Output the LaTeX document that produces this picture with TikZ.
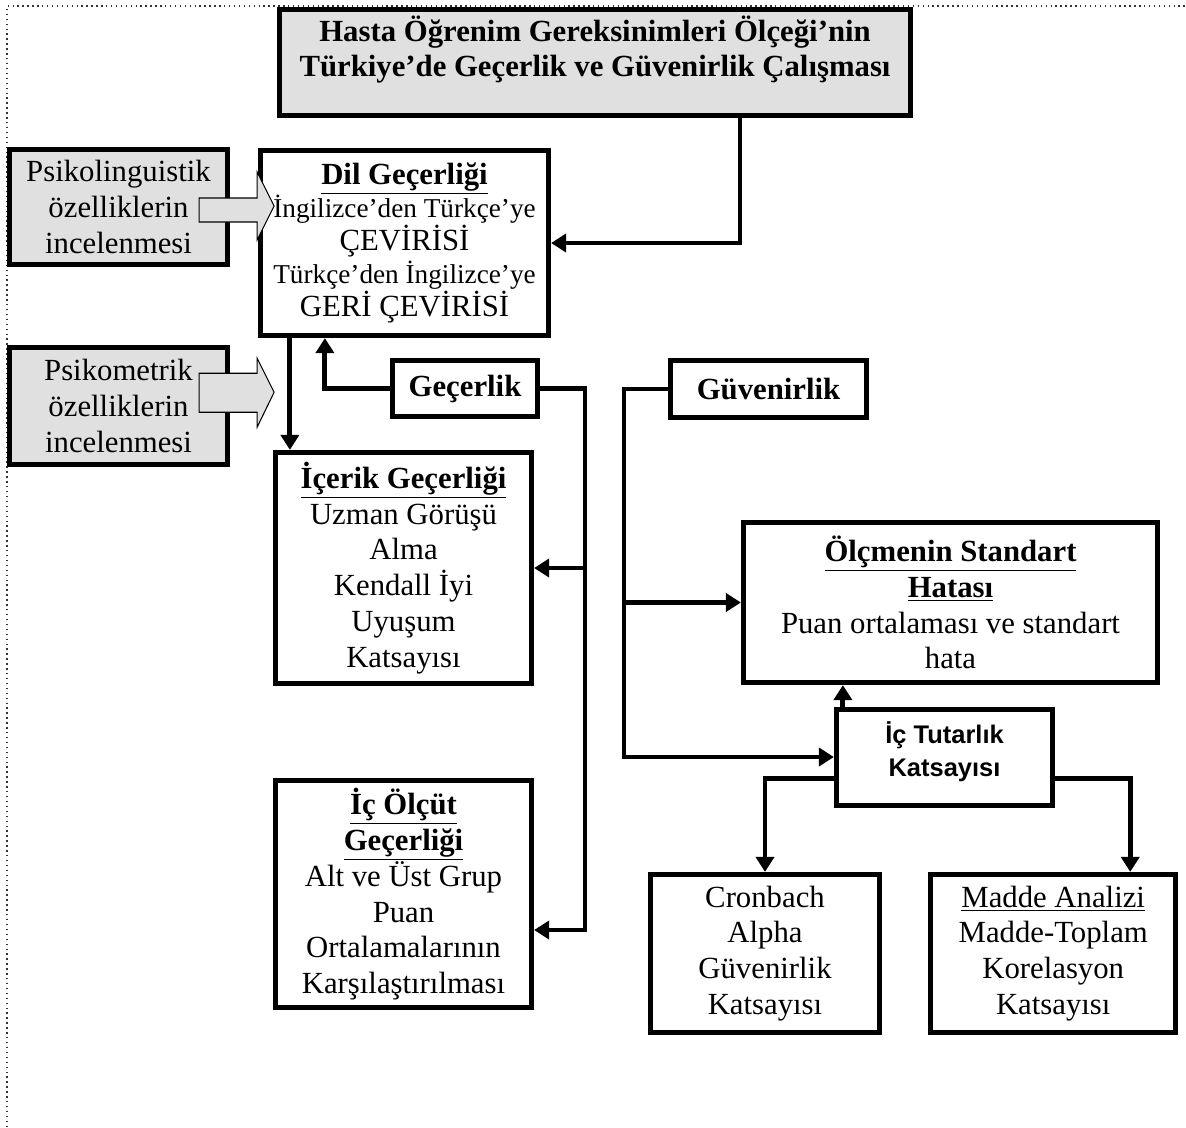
\documentclass[tikz,border=0pt]{standalone}
\usepackage{fontspec}
\setmainfont{Liberation Serif}
\newfontfamily\arialfont{Liberation Sans}
\usepackage{xcolor}
\usepackage{tikz}
\usetikzlibrary{arrows.meta,positioning,calc}
\definecolor{hgInk}{HTML}{000000}
\definecolor{hgGray}{HTML}{E0E0E0}
\newcommand{\bigtxt}{\fontsize{17.5}{20.4}\selectfont}
\newcommand{\smalltxt}{\fontsize{15.5}{18}\selectfont}
\tikzset{
  % Gray box (title, left side)
  gbox/.style={rectangle,draw=hgInk,line width=3pt,fill=hgGray,
    align=center,inner sep=2pt,font=\bigtxt},
  % White box
  wbox/.style={rectangle,draw=hgInk,line width=3pt,fill=white,
    align=center,inner sep=2pt,font=\bigtxt},
  % Block arrow
  barr/.style={draw=hgInk,line width=0.6pt,fill=hgGray,line join=miter},
  % Arrows
  arr/.style={-{Triangle[length=0.3cm,width=0.36cm]},line width=2.8pt,
    color=hgInk},
  frame/.style={dotted,line width=0.8pt,color=hgInk!80},
}
\begin{document}
\begin{tikzpicture}[x=0.02cm,y=-0.02cm]
  \useasboundingbox (0,0) rectangle (1186,1127);
  \draw[frame] (7,1127) -- (7,6) -- (1186,6);

  \node[gbox,minimum width=12.62cm,minimum height=2.12cm] (title) at (595,62.5) {};
  \node[font=\fontsize{17.5}{19.9}\selectfont\bfseries,align=center] (titletxt)
    at ($(title.north)+(0,43)$)
    {Hasta Öğrenim Gereksinimleri Ölçeği’nin\\
     Türkiye’de Geçerlik ve Güvenirlik Çalışması};

  \node[gbox,minimum width=4.36cm,minimum height=2.30cm] (psiling) at (118.5,207)
    {Psikolinguistik\\özelliklerin\\incelenmesi};
  \node[gbox,minimum width=4.36cm,minimum height=2.34cm,below=1.56cm of psiling] (psimet)
    {Psikometrik\\özelliklerin\\incelenmesi};

  \node[wbox,minimum width=5.76cm,minimum height=3.70cm,
    font=\fontsize{17.5}{18.8}\selectfont] (dil) at (404.5,243)
    {\textbf{\underline{Dil Geçerliği}}\\
     {\smalltxt İngilizce’den Türkçe’ye}\\
     ÇEVİRİSİ\\
     {\smalltxt Türkçe’den İngilizce’ye}\\
     GERİ ÇEVİRİSİ};

  \node[wbox,minimum width=2.90cm,minimum height=1.12cm,font=\bigtxt\bfseries] (gec)
    at (465,388.5) {Geçerlik};
  \node[wbox,minimum width=3.92cm,minimum height=1.14cm,font=\bigtxt\bfseries] (guv)
    at (768.5,389) {Güvenirlik};

  \node[wbox,minimum width=5.12cm,minimum height=4.62cm] (icerik) at (403.5,568)
    {\textbf{\underline{İçerik Geçerliği}}\\
     Uzman Görüşü\\Alma\\Kendall İyi\\Uyuşum\\Katsayısı};
  \node[wbox,minimum width=5.12cm,minimum height=4.54cm,below=1.84cm of icerik] (icolcut)
    {\textbf{\underline{İç Ölçüt}}\\\textbf{\underline{Geçerliği}}\\
     Alt ve Üst Grup\\Puan\\Ortalamalarının\\Karşılaştırılması};

  \node[wbox,minimum width=8.28cm,minimum height=3.20cm] (olcum) at (950.5,602.5)
    {\textbf{\underline{Ölçmenin Standart}}\\\textbf{\underline{Hatası}}\\
     Puan ortalaması ve standart\\hata};
  \node[wbox,minimum width=4.32cm,minimum height=1.92cm,
    font=\arialfont\bfseries\fontsize{14.5}{18.7}\selectfont] (ictut) at (944.5,757.5)
    {İç Tutarlık\\Katsayısı\\[-9pt]\mbox{}};

  \node[wbox,minimum width=4.58cm,minimum height=3.16cm] (cron) at (765,953.5)
    {Cronbach\\Alpha\\Güvenirlik\\Katsayısı};
  \node[wbox,minimum width=4.90cm,minimum height=3.16cm,right=0.92cm of cron] (madde)
    {\underline{Madde Analizi}\\Madde-Toplam\\Korelasyon\\Katsayısı};

  % connectors
  \draw[arr] ($(title.south)+(145,0)$) |- (dil.east);
  \draw[arr] ($(dil.south west)+(32,0)$) coordinate (d1) -- (d1 |- icerik.north);
  \draw[arr] (gec.west) -| ($(dil.south west)+(67,0)$);
  \coordinate (gbus) at (585,930);
  \draw[arr] (gec.east) -| (gbus) -- (gbus -| icolcut.east);
  \draw[arr] (icerik.east -| gbus) -- (icerik.east);
  \coordinate (rbus) at (624,757);
  \draw[arr] (guv.west) -| (rbus) -- (rbus -| ictut.west);
  \draw[arr] (olcum.west -| rbus) -- (olcum.west);
  \draw[arr] ($(ictut.north west)+(9,0)$) coordinate (t1) -- (t1 |- olcum.south);
  \draw[arr] ($(ictut.west)+(0,21)$) -| (cron.north);
  \draw[arr] ($(ictut.east)+(0,21)$) -| ($(madde.north)+(77,0)$);

  % block arrows
  \draw[barr] ($(psiling.east)+(-31,-9)$) -- ++(58,0) -- ++(0,-26) -- ++(17,34)
    -- ++(-17,34) -- ++(0,-18) -- ++(-58,0) -- cycle;
  \draw[barr] ($(psimet.east)+(-31,-33)$) -- ++(58,0) -- ++(0,-15) -- ++(17,34)
    -- ++(-17,35) -- ++(0,-15) -- ++(-58,0) -- cycle;
\end{tikzpicture}
\end{document}
